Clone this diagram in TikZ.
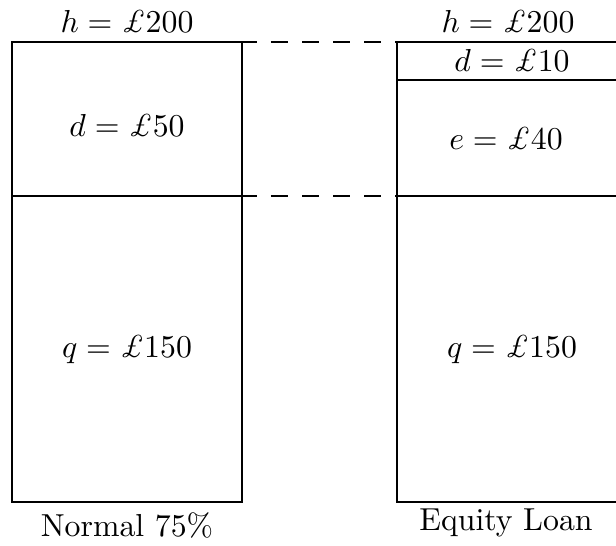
\documentclass[tikz,border=0pt]{standalone}
\begin{document}
\begin{tikzpicture}[x=0.3145pt,y=-0.3145pt,
  box/.style={draw,line width=0.85pt},
  lbl/.style={inner sep=0pt},
  guide/.style={line width=0.85pt,dash pattern=on 5.35pt off 4.4pt,dash phase=0.63pt}]
\useasboundingbox (0,0) rectangle (616,546);
% left column
\coordinate (L1) at (12,42);
\coordinate (L2) at (242,196);
\coordinate (L3) at (12,196);
\coordinate (L4) at (242,502);
\draw[box] (L1) rectangle (L4);
\draw[box] (L3) -- (L2);
% right column
\coordinate (R1) at (397,42);
\coordinate (R4) at (627,502);
\coordinate (Rd) at (397,80);
\coordinate (Rde) at (627,80);
\coordinate (R3) at (397,196);
\coordinate (R3e) at (627,196);
\draw[box] (R1) rectangle (R4);
\draw[box] (Rd) -- (Rde);
\draw[box] (R3) -- (R3e);
% dashed guides
\draw[guide] (L2 |- L1) -- (R1);
\draw[guide] (L2) -- (R3);
% labels
\node[lbl] (hl) at (127,21) {$h=\pounds200$};
\node[lbl] (dl) at (127,125) {$d=\pounds50$};
\node[lbl] (ql) at (127,350) {$q=\pounds150$};
\node[lbl] (nl) at (127,525) {Normal 75\%};
\node[lbl] (hr) at (508,21) {$h=\pounds200$};
\node[lbl] (dr) at (512,60) {$d=\pounds10$};
\node[lbl] (er) at (506,138) {$e=\pounds40$};
\node[lbl] (qr) at (512,350) {$q=\pounds150$};
\node[lbl] (nr) at (506,523) {Equity Loan};
\end{tikzpicture}
\end{document}
